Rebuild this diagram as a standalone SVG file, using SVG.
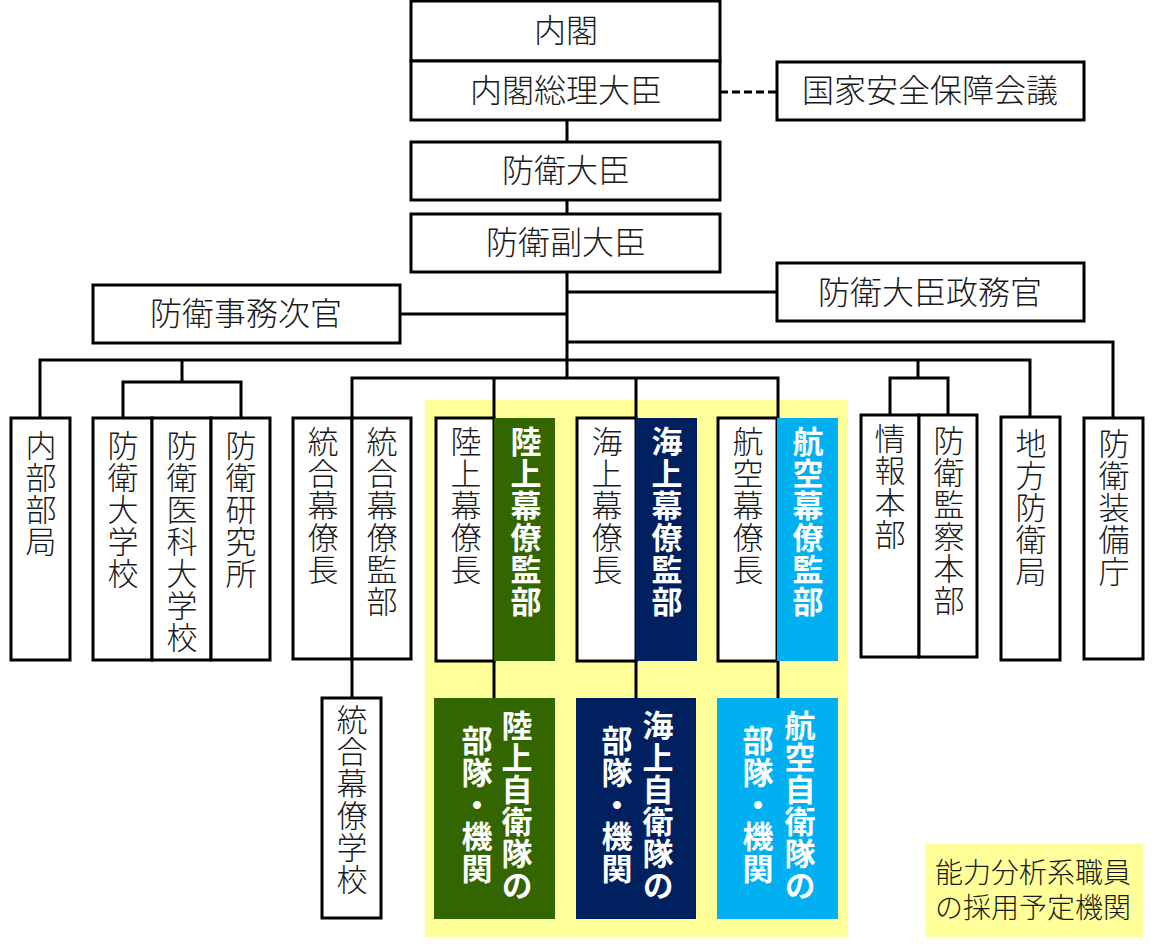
<svg xmlns="http://www.w3.org/2000/svg" width="1154" height="944" viewBox="0 0 1154 944">
<style>
.box{fill:#fff;stroke:#000;stroke-width:3}
.t{font-family:"Noto Sans CJK JP","Noto Sans CJK SC",sans-serif;font-size:32px;font-weight:300;text-anchor:middle;fill:#1a1a1a}
.v{font-family:"Noto Sans CJK JP","Noto Sans CJK SC",sans-serif;font-size:31px;font-weight:300;letter-spacing:1px;writing-mode:vertical-rl;text-anchor:start;fill:#1a1a1a}
.w{fill:#fff;font-weight:700}
.c{fill:none;stroke:#000;stroke-width:3}
.green{fill:#336600}
.navy{fill:#002060}
.sky{fill:#00B0F0}
.yel{fill:#FFFF99}
.lg{font-size:28px}
</style>
<rect class="yel" x="425" y="400" width="423" height="537"/>
<rect class="yel" x="925" y="844" width="218" height="93"/>
<g id="connectors">
<path class="c" d="M720 92H777" stroke-dasharray="8,4"/>
<path class="c" d="M567 120V142M567 200V214M567 272V378M567 292H777M400 314H567"/>
<path class="c" d="M567 342H1113V418"/>
<path class="c" d="M40 418V360H1030V417"/>
<path class="c" d="M182 360V382M123 418V382H241V418"/>
<path class="c" d="M918 360V378M890 415V378H948V415"/>
<path class="c" d="M352 418V378H778V418M494 378V418M636 378V418"/>
<path class="c" d="M352 659V698M494 661V698M636 661V698M778 661V698"/>
</g>
<g id="naikaku"><rect class="box" x="411" y="1" width="309" height="60"/><text class="t" x="566" y="42">内閣</text></g>
<g id="souri"><rect class="box" x="411" y="61" width="309" height="59"/><text class="t" x="566" y="102">内閣総理大臣</text></g>
<g id="nsc"><rect class="box" x="777" y="62" width="307" height="58"/><text class="t" x="930" y="102">国家安全保障会議</text></g>
<g id="daijin"><rect class="box" x="411" y="142" width="309" height="58"/><text class="t" x="566" y="182">防衛大臣</text></g>
<g id="fukudaijin"><rect class="box" x="411" y="214" width="309" height="58"/><text class="t" x="566" y="254">防衛副大臣</text></g>
<g id="seimukan"><rect class="box" x="777" y="263" width="307" height="58"/><text class="t" x="930" y="304">防衛大臣政務官</text></g>
<g id="jimujikan"><rect class="box" x="93" y="285" width="307" height="58"/><text class="t" x="246" y="325">防衛事務次官</text></g>
<g id="naibu"><rect class="box" x="11" y="418" width="59" height="242"/><text class="v" x="41" y="430">内部部局</text></g>
<g id="boeidai"><rect class="box" x="93" y="418" width="59" height="242"/><text class="v" x="123" y="430">防衛大学校</text></g>
<g id="idai"><rect class="box" x="152" y="418" width="59" height="242"/><text class="v" x="182" y="430">防衛医科大学校</text></g>
<g id="kenkyu"><rect class="box" x="211" y="418" width="59" height="242"/><text class="v" x="241" y="430">防衛研究所</text></g>
<g id="tougouchou"><rect class="box" x="293" y="418" width="59" height="241"/><text class="v" x="323" y="426">統合幕僚長</text></g>
<g id="tougoukanbu"><rect class="box" x="352" y="418" width="59" height="241"/><text class="v" x="382" y="426">統合幕僚監部</text></g>
<g id="rikuchou"><rect class="box" x="436" y="418" width="58" height="243"/><text class="v" x="466" y="426">陸上幕僚長</text></g>
<g id="rikukanbu"><rect class="green" x="494" y="418" width="61" height="243"/><text class="v w" x="526" y="426">陸上幕僚監部</text></g>
<g id="kaichou"><rect class="box" x="577" y="418" width="59" height="243"/><text class="v" x="607" y="426">海上幕僚長</text></g>
<g id="kaikanbu"><rect class="navy" x="636" y="418" width="61" height="243"/><text class="v w" x="667" y="426">海上幕僚監部</text></g>
<g id="kuuchou"><rect class="box" x="718" y="418" width="59" height="243"/><text class="v" x="748" y="426">航空幕僚長</text></g>
<g id="kuukanbu"><rect class="sky" x="777" y="418" width="61" height="243"/><text class="v w" x="808" y="426">航空幕僚監部</text></g>
<g id="jouhou"><rect class="box" x="861" y="415" width="58" height="242"/><text class="v" x="890" y="423">情報本部</text></g>
<g id="kansatsu"><rect class="box" x="919" y="415" width="58" height="242"/><text class="v" x="949" y="425">防衛監察本部</text></g>
<g id="chihou"><rect class="box" x="1001" y="417" width="59" height="243"/><text class="v" x="1031" y="428">地方防衛局</text></g>
<g id="soubi"><rect class="box" x="1084" y="418" width="59" height="241"/><text class="v" x="1114" y="428">防衛装備庁</text></g>
<g id="tougougakkou"><rect class="box" x="322" y="698" width="59" height="220"/><text class="v" x="352" y="704">統合幕僚学校</text></g>
<g id="rikubutai"><rect class="green" x="434" y="698" width="121" height="221"/><text class="v w" x="517" y="710">陸上自衛隊の</text><text class="v w" x="477" y="725">部隊・機関</text></g>
<g id="kaibutai"><rect class="navy" x="576" y="698" width="120" height="221"/><text class="v w" x="658" y="710">海上自衛隊の</text><text class="v w" x="617" y="725">部隊・機関</text></g>
<g id="kuubutai"><rect class="sky" x="717" y="698" width="121" height="221"/><text class="v w" x="800" y="710">航空自衛隊の</text><text class="v w" x="758" y="725">部隊・機関</text></g>
<g id="legend"><text class="t lg" x="1033" y="883"><tspan x="1033">能力分析系職員</tspan><tspan x="1033" dy="35">の採用予定機関</tspan></text></g>
</svg>
